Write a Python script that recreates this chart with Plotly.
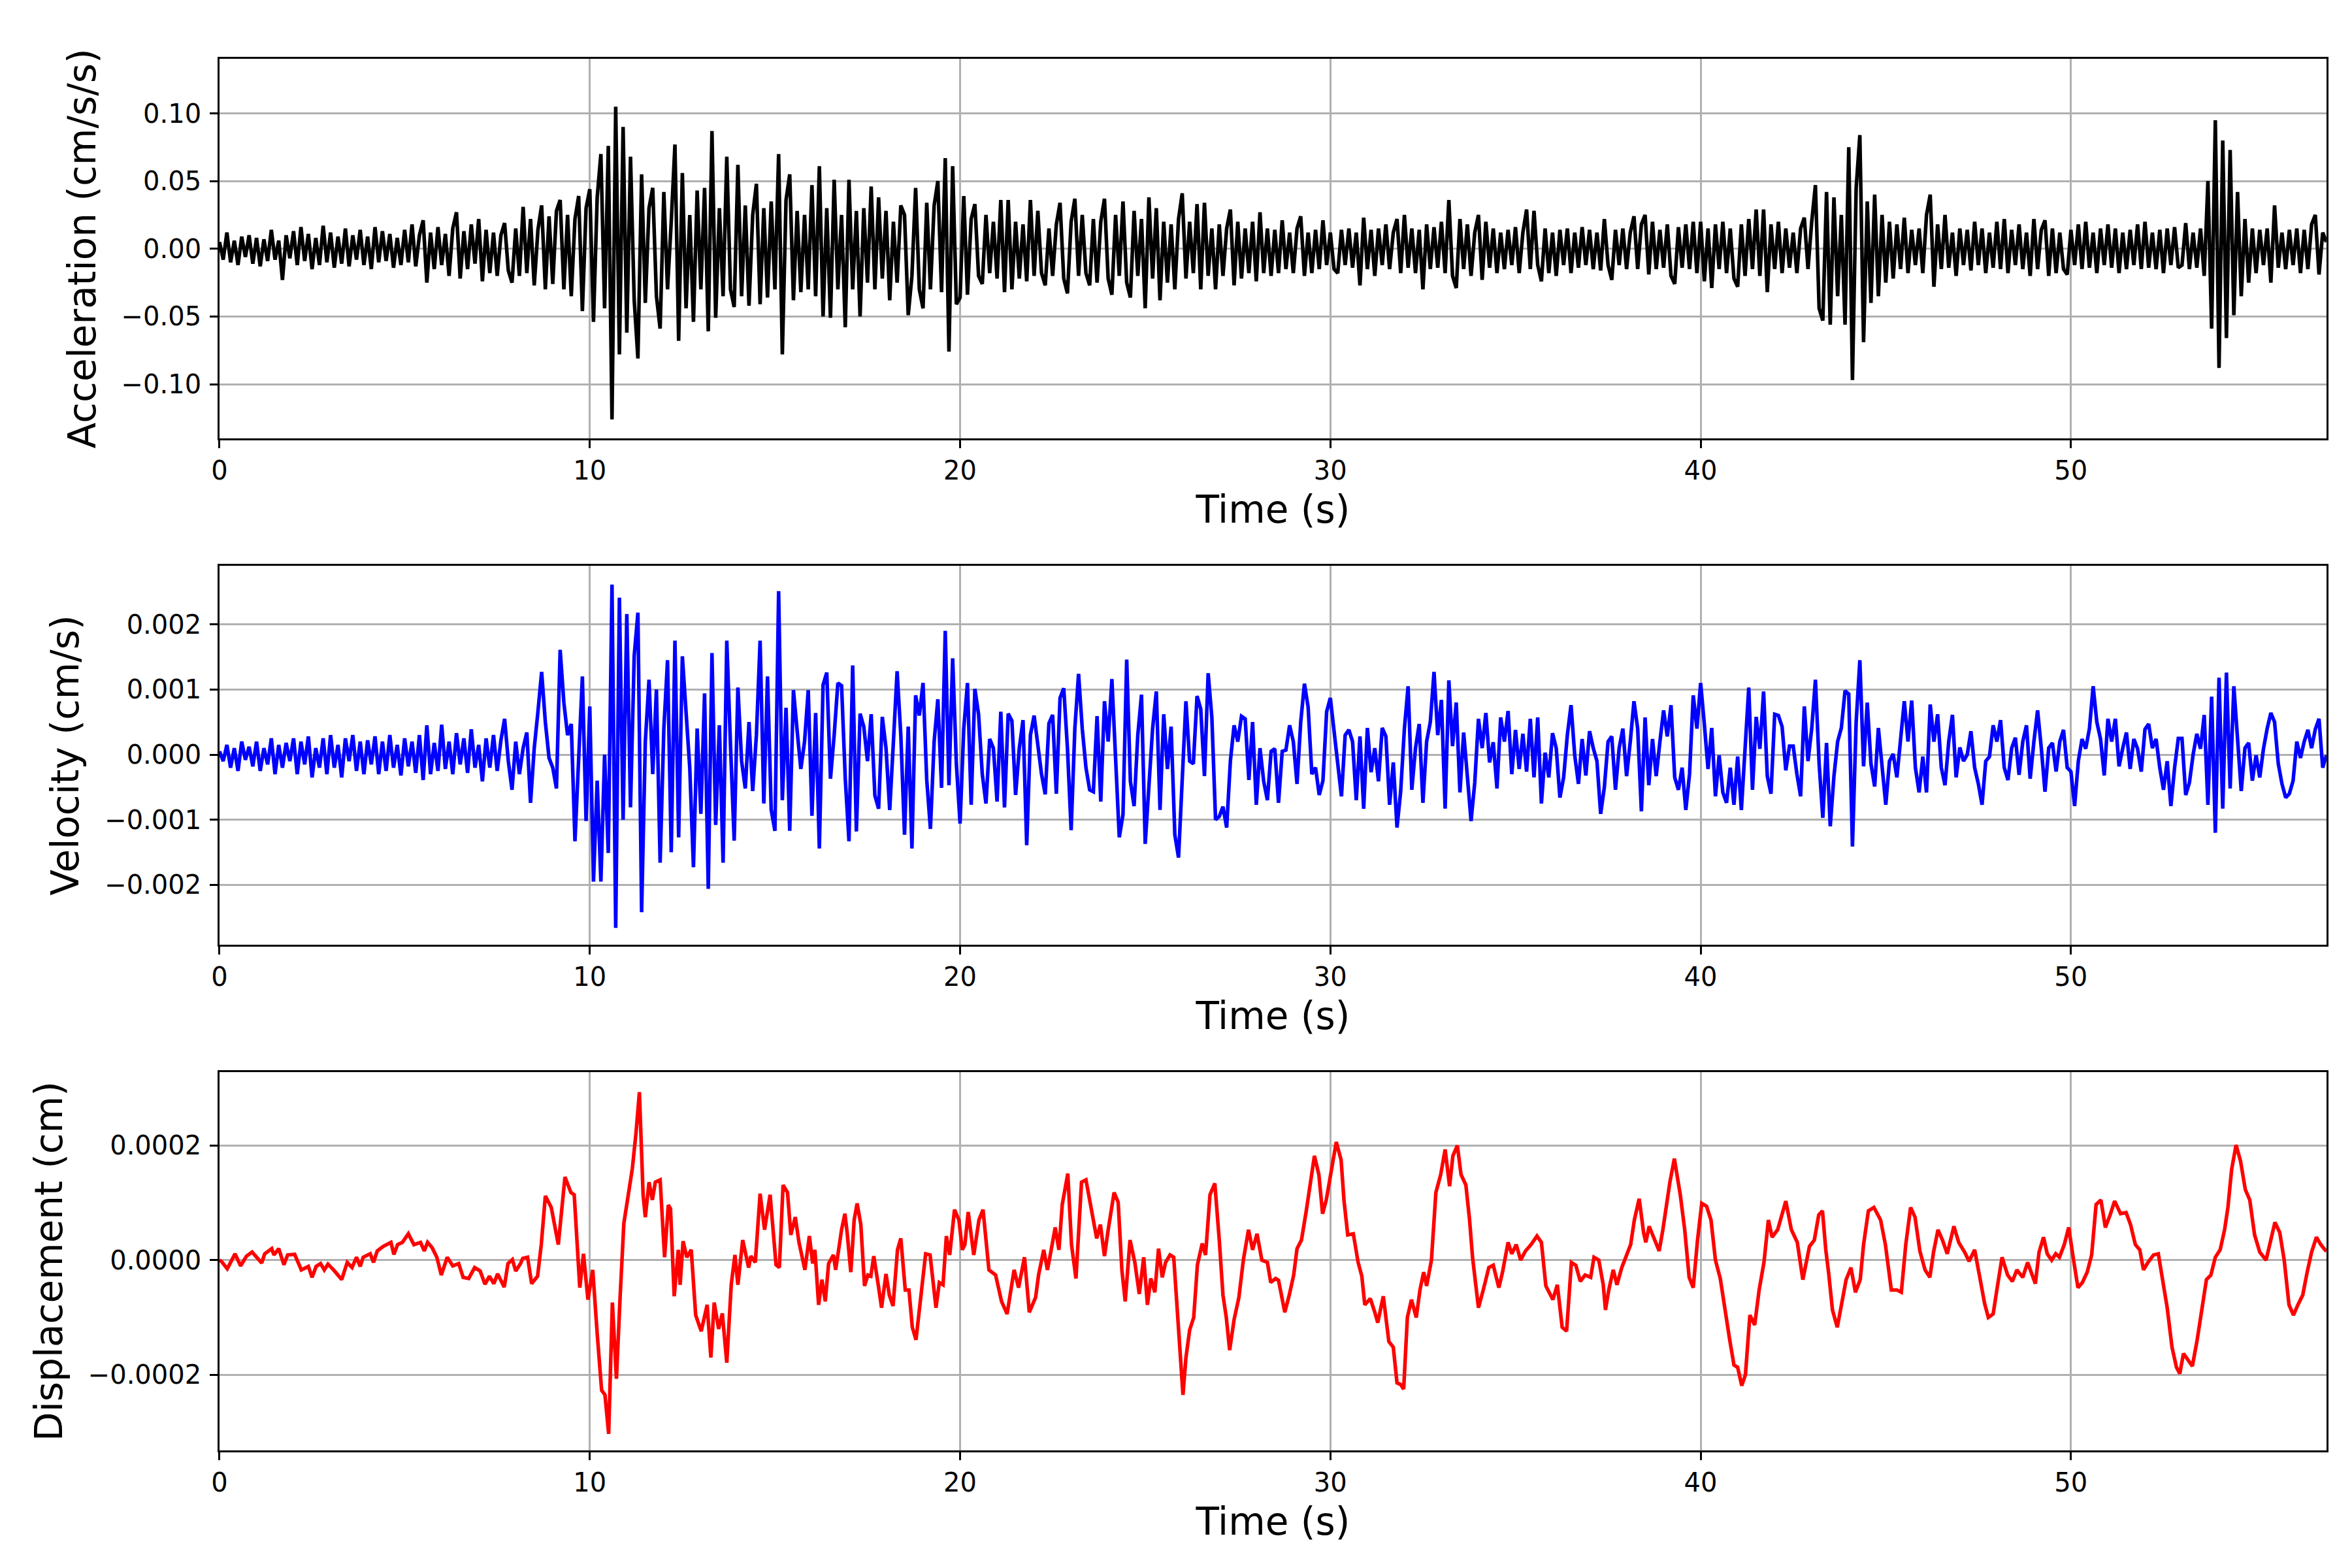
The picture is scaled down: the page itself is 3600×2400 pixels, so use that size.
#!/usr/bin/env python3
"""
Three stacked seismic traces (acceleration, velocity, displacement) vs time.
Writes out.html.
"""
import numpy as np
import plotly.graph_objects as go

# --- data -------------------------------------------------------------------
DT = 0.1  # s, sample step of the acceleration / velocity lists

# acceleration, units of 1e-3 cm/s/s, one row per second
accel_milli = [
    5, -8, 12, -10, 6, -12, 9, -6, 10, -11,
    8, -13, 7, -9, 14, -8, 6, -23, 10, -7,
    13, -12, 16, -9, 11, -15, 8, -12, 17, -10,
    12, -14, 9, -11, 15, -13, 10, -8, 14, -12,
    9, -15, 16, -10, 13, -9, 11, -14, 8, -12,
    14, -10, 18, -13, 10, 21, -25, 12, -15, 16,
    -12, 11, -20, 15, 27, -22, 13, -15, 18, -11,
    22, -24, 14, -18, 12, -20, 10, 19, -16, -25,
    15, -20, 31, -18, 22, -27, 14, 32, -30, 24,
    -26, 28, 36, -30, 25, -35, 22, 39, -46, 30,
    44, -54, 38, 70, -44, 76, -126, 105, -78, 90,
    -62, 68, -38, -81, 55, -40, 30, 45, -35, -59,
    42, -30, 20, 77, -68, 56, -44, 25, -54, 43,
    -30, 45, -61, 87, -51, 30, -35, 68, -30, -43,
    62, -35, 32, -42, 25, 48, -41, 30, -36, 35,
    -30, 70, -78, 36, 55, -38, 28, -32, 25, -30,
    47, -35, 61, -50, 30, -51, 51, -30, 25, -58,
    51, -30, 28, -50, 30, -25, 46, -30, 38, -22,
    28, -38, 20, -25, 32, 25, -49, -20, 45, -30,
    -44, 34, -30, 32, 50, -32, 67, -76, 61, -41,
    -36, 39, -34, 22, 33, -20, -26, 25, -18, 20,
    -22, 36, -32, 36, -30, 20, -22, 18, -24, 36,
    -20, 28, -18, -27, 15, -20, 18, 34, -22, -33,
    20, 37, -20, 25, -18, -27, 22, -25, 20, 37,
    -22, -34, 25, -20, 35, -25, -36, 28, -20, 22,
    -44, 38, -22, 30, -38, 20, -25, 18, -30, 22,
    41, -22, 20, -18, 33, -30, 34, -20, 15, -30,
    18, -20, 15, 29, -27, 20, -22, 15, -18, 20,
    -24, 27, -18, 15, -20, 14, -18, 21, -15, 12,
    -18, 15, 24, -20, 12, -18, 14, -15, 21, -12,
    12, -15, -18, 14, -12, 15, -14, 12, -27, 23,
    -15, 14, -20, 15, -12, 18, -15, 12, 22, -18,
    25, -14, 15, -18, 14, -30, 18, -15, 16, -14,
    20, -18, 36, -20, -29, 22, -15, 18, -20, 12,
    25, -23, 20, -14, 15, -18, 12, -15, 14, -12,
    16, -18, 12, 29, -15, 28, -12, -24, 15, -18,
    12, -20, 14, -12, 15, -18, 12, -14, 16, -12,
    14, -15, 12, -16, 22, -12, -23, 14, -12, 15,
    -15, 12, 24, -15, 18, 25, -19, 20, -15, 14,
    -14, 18, -20, -26, 16, -14, 18, -15, 20, -18,
    20, -24, 15, -29, 18, -15, 20, -18, 15, -22,
    -28, 18, -20, 22, -15, 29, -20, 29, -32, 18,
    -15, 20, -18, 15, -14, 12, -18, 15, 23, -15,
    20, 47, -44, -53, 42, -56, 38, -35, 25, -56,
    75, -97, 45, 84, -69, 35, -40, 40, -35, 25,
    -25, 20, -22, 18, -15, 23, -18, 14, -12, 15,
    -18, 25, 40, -28, 18, -15, 25, -14, 12, -20,
    15, -12, 14, -16, 20, -12, 15, -18, 12, -14,
    20, -15, 22, -18, 14, -12, 18, -15, 12, -20,
    22, -15, 14, 21, -20, 15, -18, 12, -15, -19,
    14, -12, 18, -15, 20, -14, 12, -18, 15, -12,
    18, -14, 15, -18, 12, -15, 14, -12, 18, -15,
    20, -14, 12, -15, 14, -18, 15, -12, 16, -14,
    -12, 19, -15, 12, -14, 15, -20, 50, -59, 95,
    -88, 80, -66, 73, -49, 42, -35, 22, -25, 15,
    -18, 14, -12, 15, -25, 32, -14, 12, -15, 14,
    -12, 15, -18, 14, -15, 18, 25, -19, 12, 5,
]

# velocity, units of 1e-5 cm/s, one row per second
vel_e5 = [
    5, -10, 15, -20, 10, -25, 20, -8, 12, -18,
    20, -25, 10, -15, 25, -30, 15, -20, 18, -10,
    25, -30, 20, -15, 28, -35, 10, -20, 25, -30,
    30, -20, 15, -35, 25, -10, 30, -25, 20, -30,
    22, -15, 28, -30, 20, -25, 30, -20, 15, -32,
    25, -18, 20, -28, 30, -39, 45, -30, 18, -25,
    46, -22, 20, -30, 33, -15, 25, -28, 39, -20,
    15, -41, 25, -20, 30, -25, 22, 55, -10, -54,
    20, -30, 10, 34, -74, 10, 66, 127, 50, -5,
    -20, -52, 161, 80, 30, 47, -133, -20, 120, -102,
    74, -195, -40, -195, 0, -151, 261, -266, 241, -100,
    216, -81, 152, 218, -242, 20, 115, -30, 100, -166,
    40, 145, -150, 175, -127, 151, 60, -20, -173, 40,
    -91, 94, -206, 156, -108, 45, -166, 175, 15, -132,
    103, -10, -52, 50, -56, 30, 175, -75, 120, -85,
    -117, 251, -70, 72, -117, 99, 37, -22, 20, 99,
    -94, 64, -144, 107, 126, -37, 30, 110, 106, -37,
    -133, 137, -118, 63, 43, -10, 62, -63, -83, 58,
    10, -85, 20, 128, 30, -123, 43, -144, 91, 60,
    110, -39, -114, 20, 85, -51, 190, -47, 148, -14,
    -106, 40, 110, -77, 101, 62, -30, -75, 24, 10,
    -72, 66, -81, 63, 52, -62, 10, 53, -139, 30,
    60, 10, -30, -61, 48, 61, -60, 87, 102, 10,
    -116, 40, 124, 40, -20, -54, -57, 59, -72, 82,
    20, 116, -12, -127, -92, 146, -41, -79, 30, 92,
    -137, -41, 40, 97, -85, 62, -22, 43, -123, -158,
    -50, 82, -10, -14, 90, 70, -33, 125, 57, -100,
    -95, -80, -112, -10, 45, 20, 59, 55, -39, 50,
    -77, 10, -41, -70, 5, 9, -74, 5, 7, 45,
    20, -45, 50, 109, 73, -30, -20, -62, -40, 66,
    87, 30, -14, -64, 30, 38, 20, -70, 28, -83,
    41, -27, 10, -41, 41, 28, -77, -12, -112, -56,
    40, 105, -54, 10, 47, -74, 20, 50, 127, 30,
    84, -83, 114, 13, 80, -58, 34, -33, -102, -43,
    55, 10, 64, -12, 19, -52, 57, 20, 67, -30,
    38, -22, 32, -26, 55, -35, 57, -75, 3, -35,
    33, 10, -66, -35, 30, 76, -1, -45, 24, -32,
    36, 10, -10, -91, -50, 20, 28, -54, 10, 40,
    -33, 20, 82, 40, -87, 57, -47, 24, -33, 20,
    68, 28, 76, -35, -54, -20, -85, -30, 91, 40,
    110, 47, -22, 41, -64, -1, -58, -74, -20, -77,
    -3, -85, -1, 103, -54, 58, 9, 97, -33, -60,
    62, 60, 43, -24, 13, 13, -30, -64, 74, -10,
    40, 115, -14, -97, 18, -110, -33, 20, 41, 98,
    93, -141, 50, 145, -18, 80, -14, -49, 41, -20,
    -77, -10, 1, -35, 30, 82, 20, 83, -20, -58,
    -3, -58, 77, 20, 62, -20, -47, 20, 61, -35,
    11, -10, 0, 36, -20, -45, -77, -10, -3, 45,
    20, 53, -20, -39, 10, 26, -31, 20, 45, -37,
    20, 68, 10, -57, 10, 18, -26, 20, 38, -20,
    -26, -79, -10, 24, 9, 40, 105, 50, 24, -32,
    55, 20, 55, -18, 10, 34, -22, 24, 9, -26,
    39, 47, 10, 24, -20, -54, -10, -79, -20, 25,
    25, -62, -43, 0, 32, 9, 61, -77, 89, -120,
    118, -83, 126, -52, 105, 28, -56, 10, 18, -40,
    -1, -35, 9, 40, 64, 50, -14, -45, -66, -60,
    -40, 20, -5, 20, 38, 10, 39, 55, -20, -1,
]

# displacement, read at the turning points: time (s) and value (1e-6 cm)
disp_t = [
    0.0, 0.05, 0.21, 0.42, 0.57, 0.73, 0.88, 1.14, 1.22, 1.41, 1.47, 1.6, 1.74, 1.84,
    2.03, 2.21, 2.4, 2.5, 2.61, 2.73, 2.83, 2.93, 3.08, 3.3, 3.45, 3.58, 3.7, 3.8, 3.88,
    4.07, 4.16, 4.26, 4.42, 4.63, 4.71, 4.81, 4.94, 5.1, 5.25, 5.43, 5.53, 5.62, 5.74,
    5.87, 5.99, 6.15, 6.3, 6.46, 6.58, 6.73, 6.89, 7.04, 7.17, 7.29, 7.41, 7.51, 7.69,
    7.79, 7.91, 8.0, 8.13, 8.19, 8.32, 8.43, 8.59, 8.69, 8.8, 8.96, 9.15, 9.33, 9.49,
    9.58, 9.73, 9.83, 9.95, 10.08, 10.2, 10.32, 10.41, 10.51, 10.61, 10.72, 10.82,
    10.92, 11.04, 11.15, 11.25, 11.34, 11.44, 11.5, 11.6, 11.69, 11.77, 11.9, 12.02,
    12.12, 12.18, 12.28, 12.39, 12.44, 12.52, 12.62, 12.74, 12.86, 13.01, 13.17, 13.27,
    13.36, 13.48, 13.58, 13.7, 13.82, 13.92, 14.0, 14.13, 14.29, 14.35, 14.47, 14.6,
    14.72, 14.87, 15.03, 15.12, 15.22, 15.34, 15.43, 15.55, 15.65, 15.81, 15.93, 16.02,
    16.08, 16.18, 16.27, 16.36, 16.45, 16.58, 16.64, 16.73, 16.8, 16.89, 16.95, 17.05,
    17.14, 17.22, 17.32, 17.42, 17.51, 17.59, 17.67, 17.79, 17.88, 18.0, 18.09, 18.19,
    18.31, 18.4, 18.52, 18.62, 18.71, 18.81, 18.91, 19.07, 19.19, 19.35, 19.44, 19.54,
    19.63, 19.72, 19.85, 19.97, 20.06, 20.13, 20.22, 20.37, 20.51, 20.62, 20.78, 20.96,
    21.12, 21.27, 21.46, 21.58, 21.74, 21.87, 22.04, 22.12, 22.26, 22.36, 22.45, 22.57,
    22.67, 22.76, 22.91, 23.01, 23.13, 23.28, 23.4, 23.56, 23.69, 23.79, 23.9, 24.0,
    24.16, 24.27, 24.37, 24.46, 24.59, 24.72, 24.84, 24.96, 25.06, 25.15, 25.26, 25.36,
    25.46, 25.55, 25.67, 25.77, 25.85, 25.95, 26.02, 26.1, 26.2, 26.31, 26.41, 26.54,
    26.63, 26.75, 26.88, 27.0, 27.1, 27.19, 27.28, 27.4, 27.53, 27.65, 27.79, 27.9,
    28.02, 28.15, 28.3, 28.39, 28.52, 28.6, 28.77, 28.89, 29.01, 29.1, 29.22, 29.35,
    29.45, 29.57, 29.69, 29.79, 29.89, 30.0, 30.16, 30.29, 30.37, 30.47, 30.62, 30.75,
    30.85, 30.93, 31.08, 31.2, 31.28, 31.43, 31.58, 31.7, 31.8, 31.9, 31.98, 32.08,
    32.19, 32.32, 32.42, 32.52, 32.6, 32.73, 32.85, 32.98, 33.1, 33.22, 33.31, 33.43,
    33.53, 33.66, 33.76, 33.84, 34.0, 34.13, 34.28, 34.4, 34.55, 34.65, 34.8, 34.9,
    35.02, 35.14, 35.27, 35.42, 35.58, 35.7, 35.82, 36.01, 36.13, 36.26, 36.38, 36.51,
    36.63, 36.75, 36.88, 37.03, 37.12, 37.25, 37.37, 37.43, 37.52, 37.64, 37.74, 37.87,
    37.99, 38.11, 38.21, 38.34, 38.46, 38.52, 38.61, 38.71, 38.88, 38.98, 39.17, 39.29,
    39.45, 39.57, 39.69, 39.8, 39.91, 40.03, 40.16, 40.28, 40.4, 40.53, 40.65, 40.78,
    40.9, 41.0, 41.11, 41.21, 41.33, 41.46, 41.58, 41.71, 41.83, 41.93, 42.08, 42.2,
    42.3, 42.45, 42.61, 42.76, 42.86, 42.94, 43.07, 43.19, 43.29, 43.38, 43.46, 43.56,
    43.69, 43.81, 43.93, 44.06, 44.18, 44.31, 44.4, 44.53, 44.68, 44.86, 44.99, 45.15,
    45.3, 45.42, 45.54, 45.67, 45.79, 45.92, 46.06, 46.19, 46.29, 46.41, 46.53, 46.66,
    46.84, 46.97, 47.13, 47.25, 47.4, 47.55, 47.67, 47.77, 47.9, 48.0, 48.14, 48.29,
    48.42, 48.54, 48.7, 48.83, 48.95, 49.04, 49.14, 49.26, 49.36, 49.48, 49.59, 49.69,
    49.82, 49.94, 50.06, 50.19, 50.31, 50.44, 50.56, 50.68, 50.81, 50.93, 51.06, 51.18,
    51.34, 51.49, 51.61, 51.74, 51.86, 51.96, 52.08, 52.23, 52.36, 52.48, 52.6, 52.73,
    52.85, 52.94, 53.04, 53.16, 53.28, 53.41, 53.53, 53.66, 53.78, 53.9, 54.03, 54.15,
    54.24, 54.34, 54.46, 54.58, 54.71, 54.83, 54.96, 55.1, 55.27, 55.39, 55.51, 55.64,
    55.76, 55.89, 56.01, 56.13, 56.26, 56.38, 56.5, 56.63, 56.75, 56.9,
]
disp_e6 = [
    0, -2, -15, 11, -10, 7, 14, -5, 11, 20, 9, 20, -8, 9,
    10, -17, -11, -30, -11, -6, -17, -7, -17, -34, -4, -13, 5, -11, 5,
    11, -4, 16, 24, 31, 10, 27, 31, 46, 27, 31, 16, 31, 22,
    5, -26, 5, -10, -6, -30, -32, -13, -19, -42, -28, -41, -24, -47,
    -6, 1, -19, -6, 3, 5, -41, -28, 27, 112, 92, 27, 145, 118,
    114, -48, 11, -69, -17, -128, -227, -235, -303, -74, -207, -63,
    64, 114, 160, 223, 293, 114, 75, 136, 105, 136, 140, 5,
    96, 90, -63, 18, -43, 33, 5, 18, -96, -124, -78, -170,
    -74, -120, -93, -179, -43, 9, -43, 35, -13, 7, -4, 116,
    53, 114, -8, -13, 131, 118, 44, 75, 31, -17, 42, -6,
    18, -78, -34, -72, -6, 9, -17, 22, 53, 81, 48, -21,
    70, 99, 62, -45, -26, -28, 7, -43, -83, -24, -61, -80,
    18, 38, -52, -52, -117, -139, -78, 11, 9, -83, -39, -43,
    42, 9, 88, 70, 18, 27, 84, 9, 70, 88, -17, -26,
    -72, -94, -17, -48, 5, -91, -65, -26, 18, -17, 14, 57,
    18, 97, 151, 27, -32, 136, 140, 84, 38, 62, 7, 53,
    118, 101, -17, -72, 35, -4, -59, 5, -78, -32, -56, 20,
    -30, -4, 9, 5, -74, -170, -235, -170, -122, -100, -8, 29,
    9, 114, 134, 35, -61, -100, -157, -104, -65, 0, 53, 18,
    46, 0, -4, -39, -32, -35, -91, -61, -26, 20, 35, 86,
    127, 182, 149, 81, 105, 145, 206, 175, 103, 44, 46, -4,
    -28, -78, -67, -91, -109, -63, -142, -152, -214, -217, -225, -100,
    -69, -100, -52, -21, -45, 0, 118, 149, 193, 129, 182, 200,
    149, 131, 70, 5, -83, -52, -13, -9, -48, -21, 31, 11,
    27, 0, 16, 27, 42, 31, -45, -69, -43, -117, -124, -4,
    -9, -37, -26, -30, 5, 0, -43, -87, -52, -17, -43, -13,
    9, 27, 70, 107, 48, 31, 59, 42, 16, 53, 136, 177,
    114, 53, -30, -48, 31, 99, 94, 70, 0, -32, -87, -137,
    -183, -187, -219, -200, -96, -113, -52, -4, 70, 40, 53, 81,
    103, 53, 31, -34, -4, 24, 35, 79, 86, 18, -24, -87,
    -117, -78, -34, -13, -56, -34, 27, 86, 92, 70, 27, -52,
    -52, -56, 27, 92, 75, 16, -17, -30, 14, 53, 35, 11,
    59, 31, 14, -2, 18, -34, -76, -100, -94, -52, 5, -26,
    -37, -17, -30, -4, -26, -41, 14, 40, 11, 0, 11, 5,
    27, 57, 5, -48, -39, -21, 9, 97, 105, 57, 79, 103,
    81, 83, 62, 27, 18, -17, -4, 9, 11, -39, -83, -152,
    -187, -198, -163, -174, -185, -139, -87, -34, -26, 5, 18, 53,
    92, 158, 201, 173, 123, 105, 44, 14, 0, 35, 66, 48,
    0, -78, -96, -78, -61, -21, 14, 40, 27, 15,
]

y_titles = ["Acceleration (cm/s/s)", "Velocity (cm/s)", "Displacement (cm)"]
x_title = "Time (s)"
x_ticks = [0, 10, 20, 30, 40, 50]
y_ticks = [
    [-0.10, -0.05, 0.0, 0.05, 0.10],
    [-0.002, -0.001, 0.0, 0.001, 0.002],
    [-0.0002, 0.0, 0.0002],
]
y_ranges = [[-0.14, 0.1403], [-0.00292, 0.0029], [-0.000332, 0.000328]]
y_formats = [".2f", ".3f", ".4f"]
colors = ["#000000", "#0000ff", "#ff0000"]

FONT = "DejaVu Sans"
GRID = "#b0b0b0"


def axis_common():
    return dict(
        showline=True, mirror=True, linecolor="black", linewidth=2.6,
        ticks="outside", ticklen=12, tickwidth=2.6, tickcolor="black",
        showgrid=True, gridcolor=GRID, gridwidth=2.6, zeroline=False,
        tickfont=dict(family=FONT, size=40, color="black"),
        automargin=False,
    )


def main():
    t_acc = np.round(np.arange(len(accel_milli)) * DT, 2)
    t_vel = np.round(np.arange(len(vel_e5)) * DT, 2)
    accel = np.array(accel_milli) * 1e-3
    vel = np.array(vel_e5) * 1e-5
    disp = np.array(disp_e6) * 1e-6

    series = [(t_acc, accel), (t_vel, vel), (np.array(disp_t), disp)]
    y_domains = [[0.7238, 0.9658], [0.4008, 0.6425], [0.0783, 0.3196]]
    x_domain = [0.0911, 0.9869]

    fig = go.Figure()
    layout = dict(
        width=3600, height=2400,
        margin=dict(l=0, r=0, t=0, b=0),
        paper_bgcolor="white", plot_bgcolor="white",
        showlegend=False,
    )

    for i, ((t, y), c) in enumerate(zip(series, colors)):
        n = "" if i == 0 else str(i + 1)
        fig.add_trace(go.Scatter(
            x=t, y=y, mode="lines", line=dict(color=c, width=5.5),
            xaxis="x" + n, yaxis="y" + n, hoverinfo="skip",
        ))
        xa = axis_common()
        xa.update(
            domain=x_domain, range=[0, 56.9], anchor="y" + n,
            tickvals=x_ticks,
            title=dict(text=x_title, font=dict(family=FONT, size=58, color="black"), standoff=18),
        )
        ya = axis_common()
        ya.update(
            domain=y_domains[i], range=y_ranges[i], anchor="x" + n,
            tickvals=y_ticks[i], tickformat=y_formats[i], ticklabelstandoff=5,
            title=dict(text=y_titles[i], font=dict(family=FONT, size=58, color="black"), standoff=21),
        )
        layout["xaxis" + n] = xa
        layout["yaxis" + n] = ya

    fig.update_layout(**layout)
    fig.write_html("out.html")


if __name__ == "__main__":
    main()
